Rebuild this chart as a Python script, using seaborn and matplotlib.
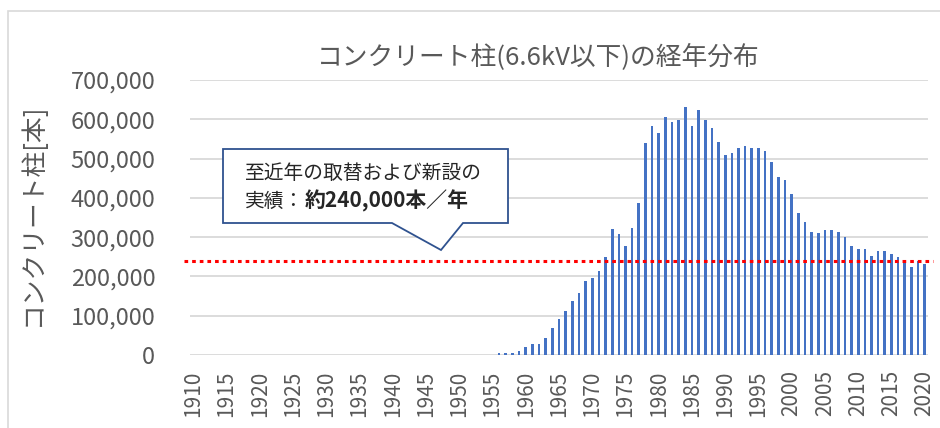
import pandas as pd
import seaborn as sns
import matplotlib.pyplot as plt
from matplotlib.patches import Polygon, Rectangle

# years on the category axis (1910-2020)
years = list(range(1910, 2021))
first_year = 1956
# number of poles per year from 1956 on (earlier years are 0)
counts = [4000, 4000, 4000, 10000, 20000, 27000, 27000, 44000, 68000, 92000,
          111000, 137000, 157000, 188000, 195000, 215000, 249000, 320000, 308000, 277000,
          323000, 386000, 539000, 583000, 566000, 606000, 592000, 597000, 630000, 583000,
          623000, 599000, 579000, 541000, 509000, 513000, 526000, 533000, 528000, 526000,
          518000, 492000, 453000, 445000, 411000, 362000, 339000, 313000, 310000, 318000,
          318000, 313000, 300000, 277000, 271000, 271000, 252000, 264000, 266000, 257000,
          249000, 239000, 225000, 239000, 231000]
recent_level = 240000
y_ticks = list(range(0, 700001, 100000))
x_tick_step = 5

title = "コンクリート柱(6.6kV以下)の経年分布"
y_label = "コンクリート柱[本]"
note_line1 = "至近年の取替および新設の"
note_line2a = "実績："
note_line2b = f"約{recent_level:,}本／年"

W, H = 940, 428
GRAY = "#595959"


def px(x, y):
    """ pixel position -> figure fraction """
    return x / W, 1 - y / H


def main():
    sns.set_style("white")
    plt.rcParams["font.family"] = ["Noto Sans CJK JP", "DejaVu Sans"]

    values = [0] * (first_year - years[0]) + counts
    df = pd.DataFrame({"year": [str(y) for y in years], "count": values})

    fig = plt.figure(figsize=(W / 100, H / 100), dpi=100)
    ax = fig.add_axes([190 / W, 1 - 355 / H, (928 - 190) / W, (355 - 80) / H])

    sns.barplot(data=df, x="year", y="count", color="#4472C4", saturation=1,
                width=0.4, linewidth=0, errorbar=None, ax=ax)

    ax.set_xlim(-0.5, len(years) - 0.5)
    ax.set_ylim(y_ticks[0], y_ticks[-1])
    ax.set_xticks(range(0, len(years), x_tick_step))
    ax.set_xticklabels([str(y) for y in years[::x_tick_step]], rotation=90)
    ax.set_yticks(y_ticks)
    ax.set_yticklabels([f"{v:,}" for v in y_ticks])
    ax.tick_params(axis="y", length=0, pad=25, labelsize=17, labelcolor=GRAY)
    ax.tick_params(axis="x", length=0, pad=11, labelsize=15, labelcolor=GRAY)
    ax.set_xlabel("")
    ax.set_ylabel(y_label, fontsize=18.5, color=GRAY)
    ax.yaxis.set_label_coords(-0.195, 0.51)

    ax.yaxis.grid(True, color="#D9D9D9", linewidth=1.3)
    ax.set_axisbelow(True)
    sns.despine(ax=ax, left=True, bottom=True)

    ax.axhline(recent_level, xmin=-0.008, xmax=1.007, color="red", linewidth=2.2,
               dashes=(1.2, 1.3), clip_on=False, zorder=5)

    fig.text(*px(538, 57), title, fontsize=18.5, color=GRAY, ha="center", va="center")

    # callout box
    pts = [px(223, 149), px(508, 149), px(508, 223), px(463, 223),
           px(441, 250), px(392, 223), px(223, 223)]
    fig.add_artist(Polygon(pts, closed=True, facecolor="white", edgecolor="#2F528F",
                           linewidth=1.3, transform=fig.transFigure))
    fig.text(*px(245, 173), note_line1, fontsize=14.2, ha="left", va="center")
    t = fig.text(*px(245, 201), note_line2a, fontsize=14.2, ha="left", va="center")
    fig.canvas.draw()
    bb = t.get_window_extent()
    fig.text(bb.x1 / W, px(0, 201)[1], note_line2b, fontsize=15, fontweight="bold",
             ha="left", va="center")

    # outer chart border
    fig.add_artist(Rectangle(px(8, H + 10), 1.1, (H + 10 - 11) / H, fill=False,
                             edgecolor="#D9D9D9", linewidth=1.2,
                             transform=fig.transFigure))

    plt.savefig("out.png", dpi=100)


if __name__ == "__main__":
    main()
